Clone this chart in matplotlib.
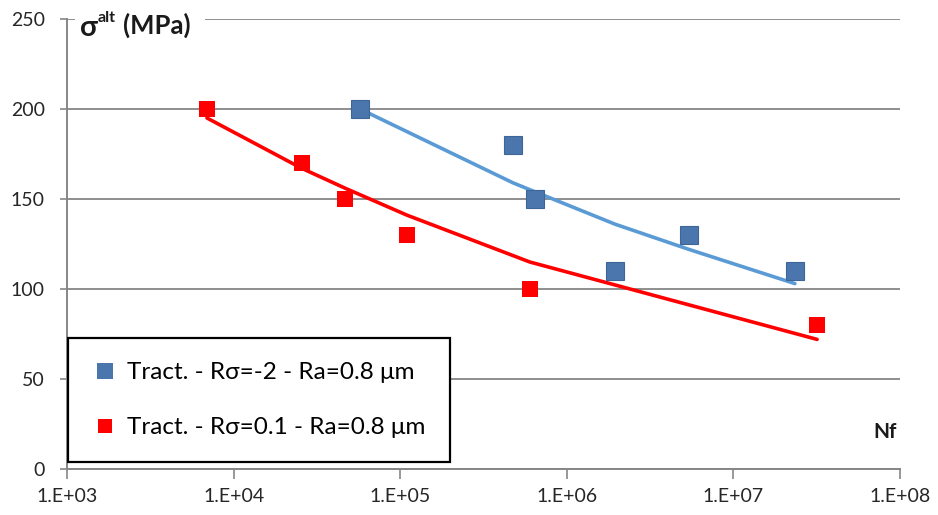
import math
import matplotlib
matplotlib.use("Agg")
import matplotlib.pyplot as plt
from matplotlib.lines import Line2D
from matplotlib.patches import Rectangle
from matplotlib.ticker import FixedLocator, FuncFormatter, NullLocator

plt.rcParams['font.family'] = ['Lato', 'DejaVu Sans']

# ---- data ----
blue_label = "Tract. - R\u03c3=-2 - Ra=0.8 \u03bcm"
red_label = "Tract. - R\u03c3=0.1 - Ra=0.8 \u03bcm"

blue_n = [5.74e4, 4.75e5, 6.44e5, 1.95e6, 5.41e6, 2.34e7]
blue_s = [200, 180, 150, 110, 130, 110]
blue_fit = [200, 159, 154, 136, 122, 103]

red_n = [6.92e3, 2.57e4, 4.67e4, 1.10e5, 6.0e5, 3.18e7]
red_s = [200, 170, 150, 130, 100, 80]
red_fit = [195, 167, 156, 141, 115, 72]

x_ticks = [1e3, 1e4, 1e5, 1e6, 1e7, 1e8]
y_ticks = [0, 50, 100, 150, 200, 250]

# ---- figure ----
W, H = 938, 515
fig = plt.figure(figsize=(W / 100, H / 100), dpi=100)
ax = fig.add_axes([67 / W, 1 - 469 / H, (900 - 67) / W, (469 - 19) / H])

blue_mk = "#4A76AD"
blue_ln = "#5B9BD5"
red = "#FF0000"
grey = "#868686"

ax.plot(blue_n, blue_fit, color=blue_ln, lw=2.6, zorder=3, solid_capstyle='round')
ax.plot(red_n, red_fit, color=red, lw=2.6, zorder=3, solid_capstyle='round')
ax.plot(blue_n, blue_s, ls='none', marker='s', ms=13, color=blue_mk,
        mec="#3E6597", mew=0.8, zorder=4)
ax.plot(red_n, red_s, ls='none', marker='s', ms=11.5, color=red, mew=0, zorder=4)

ax.set_xscale('log')
ax.set_xlim(1e3, 1e8)
ax.set_ylim(0, 250)
ax.xaxis.set_major_locator(FixedLocator(x_ticks))
ax.xaxis.set_minor_locator(NullLocator())
ax.xaxis.set_major_formatter(FuncFormatter(lambda v, p: "1.E+%02d" % round(math.log10(v))))
ax.yaxis.set_major_locator(FixedLocator(y_ticks))
ax.yaxis.set_major_formatter(FuncFormatter(lambda v, p: "%d" % v))

for s in ['top', 'right']:
    ax.spines[s].set_visible(False)
for s in ['left', 'bottom']:
    ax.spines[s].set_color(grey)
    ax.spines[s].set_linewidth(1.4)
ax.yaxis.grid(True, color=grey, lw=1.3)
ax.set_axisbelow(True)
ax.tick_params(axis='y', length=5, width=1.2, color=grey, pad=11, labelsize=14, labelcolor='#262626')
ax.tick_params(axis='x', length=7, width=1.2, color=grey, pad=7, labelsize=14, labelcolor='#262626')

# y label with white background covering the top gridline
ax.add_patch(Rectangle((8 / 833, 0.949), 130 / 833, 0.075, transform=ax.transAxes,
                       facecolor='white', edgecolor='none', zorder=2, clip_on=False))
ax.text(0.0156, 0.98, "\u03c3", transform=ax.transAxes, fontsize=21, fontweight='bold',
        ha='left', va='center', color='#1a1a1a', zorder=5)
ax.text(0.037, 1.002, "alt", transform=ax.transAxes, fontsize=11.5, fontweight='bold',
        ha='left', va='center', color='#1a1a1a', zorder=5)
ax.text(0.0672, 0.987, "(MPa)", transform=ax.transAxes, fontsize=18.5, fontweight='bold',
        ha='left', va='center', color='#1a1a1a', zorder=5)

ax.text(0.996, 0.082, "Nf", transform=ax.transAxes, fontsize=15, fontweight='bold',
        ha='right', va='center', color='#1a1a1a')

# legend box
ax.add_patch(Rectangle((1 / 833, 7 / 450), 382 / 833, 124 / 450, transform=ax.transAxes,
                       facecolor='white', edgecolor='black', lw=1.6, zorder=5))
handles = [Line2D([], [], ls='none', marker='s', ms=11, color=blue_mk, mew=0),
           Line2D([], [], ls='none', marker='s', ms=10, color=red, mew=0)]
leg = ax.legend(handles, [blue_label, red_label], loc='lower left',
                bbox_to_anchor=(19 / 833, 21 / 450), frameon=False, fontsize=17.5,
                handlelength=0.8, handletextpad=0.5, labelspacing=1.4, borderaxespad=0)
leg.set_zorder(6)

fig.savefig("out.png", dpi=100)
